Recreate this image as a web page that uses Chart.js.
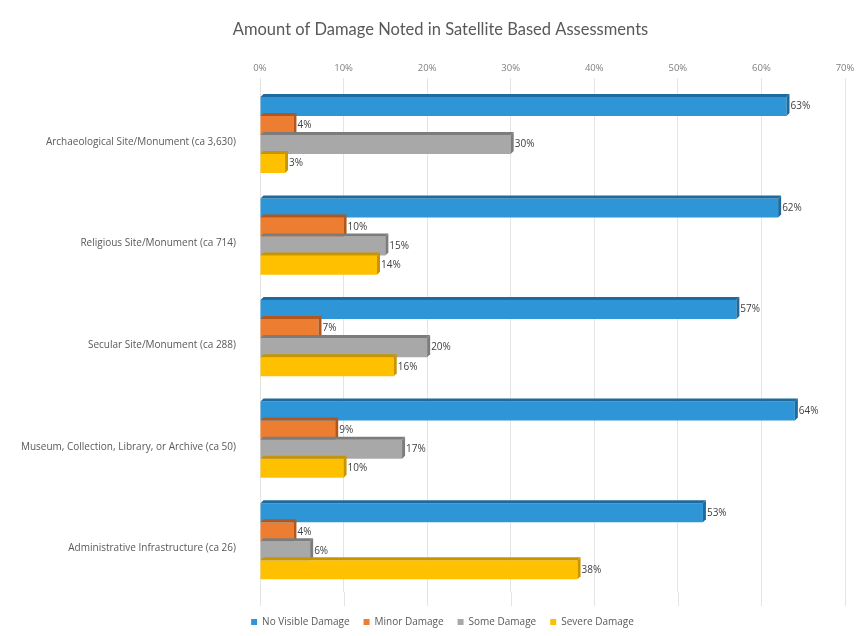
<!DOCTYPE html>
<html>
<head>
<meta charset="utf-8">
<script src="https://cdn.jsdelivr.net/npm/chart.js@4/dist/chart.umd.min.js"></script>
<style>
  html, body { margin: 0; padding: 0; background: #fff; }
  #wrap { width: 864px; height: 636px; position: relative; }
</style>
</head>
<body>
<div id="wrap"><canvas id="damageChart"></canvas></div>
<script>
const categories = [
    'Archaeological Site/Monument (ca 3,630)',
    'Religious Site/Monument (ca 714)',
    'Secular Site/Monument (ca 288)',
    'Museum, Collection, Library, or Archive (ca 50)',
    'Administrative Infrastructure (ca 26)'
];
const noVisible = [63, 62, 57, 64, 53];
const minor     = [4, 10, 7, 9, 4];
const some      = [30, 15, 20, 17, 6];
const severe    = [3, 14, 16, 10, 38];

const seriesNames = ['No Visible Damage', 'Minor Damage', 'Some Damage', 'Severe Damage'];
const frontColors = ['#2e96d6', '#ed7d31', '#a8a8a8', '#ffc000'];
const edgeColors  = ['#1d6a9e', '#b2561b', '#7c7c7c', '#c79500'];

// the original centres title and legend a bit right of the canvas middle,
// and the legend sits lower than chart.js would put it
const nudgeBoxes = {
    id: 'nudgeBoxes',
    afterLayout(chart) {
        if (chart.titleBlock) {
            chart.titleBlock.left += 18;
            chart.titleBlock.right += 18;
        }
        if (chart.legend) {
            chart.legend.left += 20;
            chart.legend.right += 20;
            chart.legend.top += 11;
            chart.legend.bottom += 11;
        }
    }
};

// grid lines run a little past the plot floor
const gridTail = {
    id: 'gridTail',
    beforeDatasetsDraw(chart) {
        const ctx = chart.ctx;
        const x = chart.scales.x;
        const area = chart.chartArea;
        ctx.save();
        ctx.strokeStyle = '#e4e4e4';
        ctx.lineWidth = 1;
        x.ticks.forEach(function (t) {
            const px = Math.round(x.getPixelForValue(t.value)) + 0.5;
            ctx.beginPath();
            ctx.moveTo(px, area.bottom);
            ctx.lineTo(px, area.bottom + 14);
            ctx.stroke();
        });
        ctx.restore();
    }
};

// fake 3D: darker top and right faces, then the value label
const bar3d = {
    id: 'bar3d',
    afterDatasetsDraw(chart) {
        const ctx = chart.ctx;
        const d = 3;
        chart.data.datasets.forEach(function (ds, i) {
            const meta = chart.getDatasetMeta(i);
            meta.data.forEach(function (bar, j) {
                const top = bar.y - bar.height / 2;
                const bottom = bar.y + bar.height / 2;
                ctx.save();
                ctx.fillStyle = edgeColors[i];
                ctx.beginPath();
                ctx.moveTo(bar.base, top);
                ctx.lineTo(bar.x, top);
                ctx.lineTo(bar.x + d, top - d);
                ctx.lineTo(bar.base + d, top - d);
                ctx.closePath();
                ctx.fill();
                ctx.beginPath();
                ctx.moveTo(bar.x, top);
                ctx.lineTo(bar.x + d, top - d);
                ctx.lineTo(bar.x + d, bottom - d);
                ctx.lineTo(bar.x, bottom);
                ctx.closePath();
                ctx.fill();
                ctx.fillStyle = '#404040';
                ctx.font = '10px "Open Sans"';
                ctx.textAlign = 'left';
                ctx.textBaseline = 'middle';
                ctx.fillText(ds.data[j] + '%', bar.x + d + 1, bar.y);
                ctx.restore();
            });
        });
    }
};

const ctx = document.getElementById('damageChart').getContext('2d');
new Chart(ctx, {
    type: 'bar',
    data: {
        labels: categories,
        datasets: [noVisible, minor, some, severe].map(function (vals, i) {
            return {
                label: seriesNames[i],
                data: vals,
                backgroundColor: frontColors[i],
                borderWidth: 0,
                categoryPercentage: 0.75,
                barPercentage: 1.0
            };
        })
    },
    options: {
        indexAxis: 'y',
        responsive: true,
        maintainAspectRatio: false,
        animation: false,
        layout: { padding: { left: 0, right: 19, top: 0, bottom: 10 } },
        plugins: {
            title: {
                display: true,
                text: 'Amount of Damage Noted in Satellite Based Assessments',
                color: '#595959',
                font: { family: 'Lato', size: 16.5, weight: 'normal' },
                padding: { top: 20, bottom: 19 }
            },
            legend: {
                position: 'bottom',
                labels: {
                    usePointStyle: true,
                    pointStyle: 'rect',
                    boxWidth: 6,
                    boxHeight: 6,
                    padding: 14,
                    color: '#595959',
                    font: { family: 'Open Sans', size: 10 }
                }
            },
            tooltip: { enabled: false }
        },
        scales: {
            x: {
                position: 'top',
                min: 0,
                max: 70,
                ticks: {
                    stepSize: 10,
                    color: '#7f7f7f',
                    font: { family: 'Open Sans', size: 9.5 },
                    padding: 4,
                    callback: function (v) { return v + '%'; }
                },
                grid: { color: '#e4e4e4', tickLength: 6, drawTicks: true },
                border: { display: false }
            },
            y: {
                afterFit: function (scale) { scale.width = 260; },
                ticks: {
                    color: '#595959',
                    font: { family: 'Open Sans', size: 10 },
                    padding: 16,
                    labelOffset: 7
                },
                grid: { display: false },
                border: { display: false }
            }
        }
    },
    plugins: [nudgeBoxes, gridTail, bar3d]
});
</script>
</body>
</html>
